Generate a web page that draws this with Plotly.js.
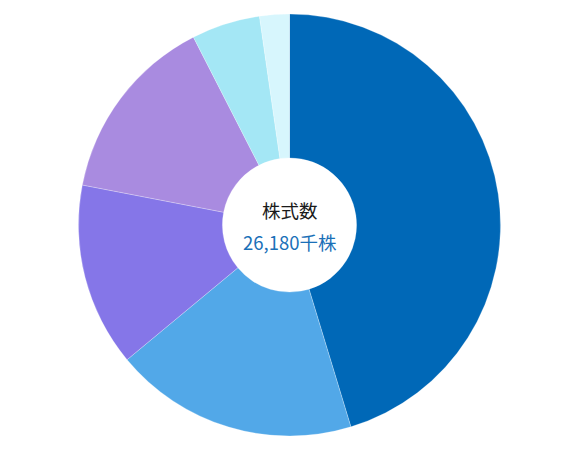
<!DOCTYPE html>
<html>
<head>
<meta charset="utf-8">
<script src="https://cdn.plot.ly/plotly-3.0.1.min.js"></script>
<style>html,body{margin:0;padding:0;background:#fff;}#chart{width:572px;height:452px;}</style>
</head>
<body>
<div id="chart"></div>
<script>
const categories = ["区分A", "区分B", "区分C", "区分D", "区分E", "区分F"];
const shares = [11860, 4890, 3680, 3780, 1375, 595];
const sliceColors = ["#0068b7", "#52a8e8", "#8576e8", "#a98be0", "#a4e7f5", "#d7f6fd"];
const centerTitle = "株式数";
const centerValue = "26,180千株";

const data = [{
  type: "pie",
  labels: categories,
  values: shares,
  sort: false,
  direction: "clockwise",
  rotation: 0,
  hole: 0.318,
  textinfo: "none",
  hoverinfo: "label+value",
  marker: { colors: sliceColors, line: { color: "rgba(255,255,255,0.5)", width: 0.5 } }
}];

const layout = {
  width: 572, height: 452,
  margin: { l: 7, r: 0, t: 14, b: 16 },
  showlegend: false,
  paper_bgcolor: "#fff",
  font: { family: "Noto Sans CJK JP, Noto Sans, sans-serif" },
  annotations: [
    { text: centerTitle, x: 0.5, y: 0.5, xref: "paper", yref: "paper", yshift: 15, showarrow: false,
      font: { size: 18.5, color: "#1a1a1a" } },
    { text: centerValue, x: 0.5, y: 0.5, xref: "paper", yref: "paper", yshift: -17, showarrow: false,
      font: { size: 18.5, color: "#1a70b8" } }
  ]
};

Plotly.newPlot("chart", data, layout, { displayModeBar: false, staticPlot: true });
</script>
</body>
</html>
